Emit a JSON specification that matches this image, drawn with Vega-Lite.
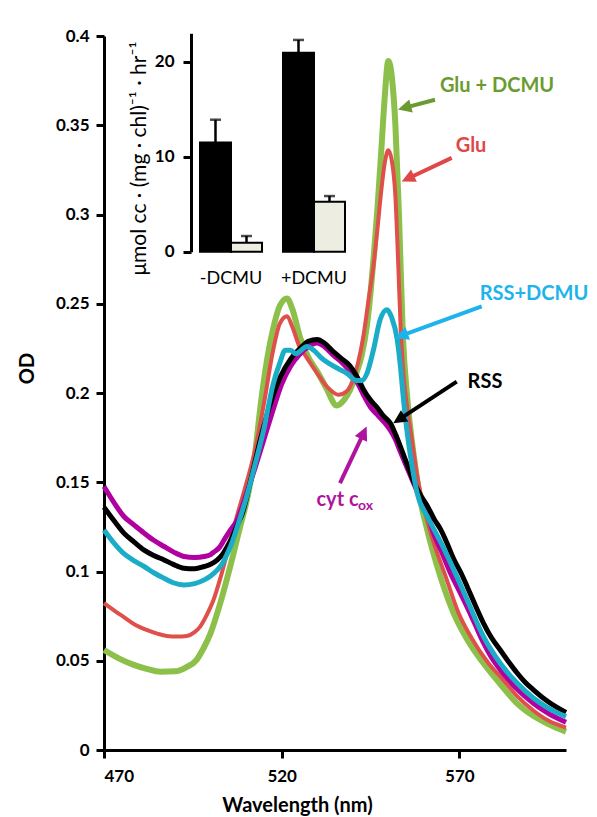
{
  "$schema": "https://vega.github.io/schema/vega-lite/v6.json",
  "width": 462,
  "height": 714,
  "autosize": "none",
  "padding": {"left": 104, "top": 36, "right": 31, "bottom": 67},
  "background": "white",
  "config": {
    "font": "Lato",
    "view": {"stroke": null},
    "axis": {
      "domainColor": "#000", "domainWidth": 3, "tickColor": "#000", "tickWidth": 3, "tickSize": 8,
      "labelColor": "#000", "labelFont": "Lato", "labelFontSize": 17, "labelFontWeight": "bold",
      "titleFont": "Lato", "titleFontSize": 20, "titleFontWeight": "bold", "titleColor": "#000", "grid": false
    }
  },
  "datasets": {
    "curves": [
      {"s":"G","nm":470,"od":0.056},{"s":"G","nm":474,"od":0.0515},{"s":"G","nm":478,"od":0.048},{"s":"G","nm":482,"od":0.0455},{"s":"G","nm":486,"od":0.0439},{"s":"G","nm":490,"od":0.0441},{"s":"G","nm":493,"od":0.0462},{"s":"G","nm":496,"od":0.0504},{"s":"G","nm":498,"od":0.057},{"s":"G","nm":500,"od":0.0655},{"s":"G","nm":502.7,"od":0.0822},{"s":"G","nm":505.5,"od":0.1027},{"s":"G","nm":508.3,"od":0.125},{"s":"G","nm":510.2,"od":0.14},{"s":"G","nm":512.5,"od":0.166},{"s":"G","nm":514,"od":0.192},{"s":"G","nm":516,"od":0.22},{"s":"G","nm":517.6,"od":0.236},{"s":"G","nm":519.5,"od":0.249},{"s":"G","nm":521.5,"od":0.253},{"s":"G","nm":523,"od":0.247},{"s":"G","nm":525.2,"od":0.231},{"s":"G","nm":527.5,"od":0.22},{"s":"G","nm":530,"od":0.212},{"s":"G","nm":532.5,"od":0.203},{"s":"G","nm":535.5,"od":0.193},{"s":"G","nm":537.5,"od":0.196},{"s":"G","nm":539.3,"od":0.202},{"s":"G","nm":541,"od":0.211},{"s":"G","nm":542.5,"od":0.221},{"s":"G","nm":544,"od":0.238},{"s":"G","nm":545,"od":0.256},{"s":"G","nm":546,"od":0.279},{"s":"G","nm":547,"od":0.305},{"s":"G","nm":548,"od":0.335},{"s":"G","nm":549,"od":0.366},{"s":"G","nm":550,"od":0.386},{"s":"G","nm":551,"od":0.377},{"s":"G","nm":552,"od":0.35},{"s":"G","nm":553,"od":0.3},{"s":"G","nm":554.1,"od":0.232},{"s":"G","nm":555.3,"od":0.198},{"s":"G","nm":556.7,"od":0.172},{"s":"G","nm":558,"od":0.153},{"s":"G","nm":559,"od":0.14},{"s":"G","nm":560.5,"od":0.127},{"s":"G","nm":562.3,"od":0.113},{"s":"G","nm":565,"od":0.095},{"s":"G","nm":568.4,"od":0.0766},{"s":"G","nm":572.5,"od":0.061},{"s":"G","nm":576.8,"od":0.0486},{"s":"G","nm":581.5,"od":0.037},{"s":"G","nm":586.3,"od":0.026},{"s":"G","nm":590.9,"od":0.019},{"s":"G","nm":595,"od":0.0145},{"s":"G","nm":600,"od":0.0103},
      {"s":"R","nm":470,"od":0.0823},{"s":"R","nm":473,"od":0.078},{"s":"R","nm":475.4,"od":0.0747},{"s":"R","nm":478.5,"od":0.0705},{"s":"R","nm":482,"od":0.0673},{"s":"R","nm":485,"od":0.0652},{"s":"R","nm":487.7,"od":0.0639},{"s":"R","nm":490.5,"od":0.0636},{"s":"R","nm":493.3,"od":0.0639},{"s":"R","nm":495.5,"od":0.066},{"s":"R","nm":497,"od":0.069},{"s":"R","nm":499,"od":0.076},{"s":"R","nm":500.8,"od":0.084},{"s":"R","nm":502.7,"od":0.096},{"s":"R","nm":504.6,"od":0.11},{"s":"R","nm":507.4,"od":0.131},{"s":"R","nm":510,"od":0.149},{"s":"R","nm":512.5,"od":0.168},{"s":"R","nm":515,"od":0.194},{"s":"R","nm":517.6,"od":0.224},{"s":"R","nm":519.5,"od":0.239},{"s":"R","nm":521.5,"od":0.243},{"s":"R","nm":523,"od":0.237},{"s":"R","nm":525,"od":0.226},{"s":"R","nm":527,"od":0.22},{"s":"R","nm":530,"od":0.211},{"s":"R","nm":533,"od":0.203},{"s":"R","nm":536,"od":0.199},{"s":"R","nm":538.3,"od":0.201},{"s":"R","nm":540,"od":0.207},{"s":"R","nm":541.5,"od":0.217},{"s":"R","nm":543,"od":0.232},{"s":"R","nm":544.5,"od":0.253},{"s":"R","nm":546,"od":0.274},{"s":"R","nm":547,"od":0.293},{"s":"R","nm":548,"od":0.313},{"s":"R","nm":549,"od":0.329},{"s":"R","nm":550,"od":0.336},{"s":"R","nm":551,"od":0.33},{"s":"R","nm":552,"od":0.31},{"s":"R","nm":552.8,"od":0.272},{"s":"R","nm":553.5,"od":0.235},{"s":"R","nm":554.3,"od":0.21},{"s":"R","nm":555.3,"od":0.192},{"s":"R","nm":556.7,"od":0.173},{"s":"R","nm":558,"od":0.155},{"s":"R","nm":560,"od":0.136},{"s":"R","nm":562,"od":0.121},{"s":"R","nm":564,"od":0.109},{"s":"R","nm":566,"od":0.098},{"s":"R","nm":569.8,"od":0.0766},{"s":"R","nm":573.5,"od":0.0625},{"s":"R","nm":578.2,"od":0.0486},{"s":"R","nm":582,"od":0.04},{"s":"R","nm":586.3,"od":0.03},{"s":"R","nm":590.9,"od":0.022},{"s":"R","nm":595,"od":0.0165},{"s":"R","nm":600,"od":0.0125},
      {"s":"C","nm":470,"od":0.1233},{"s":"C","nm":473,"od":0.1155},{"s":"C","nm":475.6,"od":0.11},{"s":"C","nm":478.5,"od":0.106},{"s":"C","nm":481.3,"od":0.1028},{"s":"C","nm":484,"od":0.0993},{"s":"C","nm":486.9,"od":0.0962},{"s":"C","nm":489.5,"od":0.0937},{"s":"C","nm":492.5,"od":0.0925},{"s":"C","nm":495.5,"od":0.0932},{"s":"C","nm":498.2,"od":0.0953},{"s":"C","nm":500,"od":0.0975},{"s":"C","nm":501.9,"od":0.1009},{"s":"C","nm":503.5,"od":0.105},{"s":"C","nm":504.7,"od":0.11},{"s":"C","nm":506,"od":0.116},{"s":"C","nm":507.5,"od":0.125},{"s":"C","nm":510,"od":0.141},{"s":"C","nm":512.5,"od":0.16},{"s":"C","nm":515,"od":0.18},{"s":"C","nm":517.6,"od":0.205},{"s":"C","nm":519.5,"od":0.217},{"s":"C","nm":521,"od":0.224},{"s":"C","nm":522.5,"od":0.224},{"s":"C","nm":524,"od":0.222},{"s":"C","nm":525.5,"od":0.224},{"s":"C","nm":527,"od":0.226},{"s":"C","nm":529,"od":0.224},{"s":"C","nm":531,"od":0.22},{"s":"C","nm":534.6,"od":0.215},{"s":"C","nm":538.4,"od":0.211},{"s":"C","nm":541,"od":0.207},{"s":"C","nm":542.5,"od":0.207},{"s":"C","nm":544,"od":0.211},{"s":"C","nm":545.8,"od":0.224},{"s":"C","nm":547.7,"od":0.241},{"s":"C","nm":549.6,"od":0.2466},{"s":"C","nm":551,"od":0.242},{"s":"C","nm":552.5,"od":0.23},{"s":"C","nm":553.4,"od":0.215},{"s":"C","nm":554.3,"od":0.196},{"s":"C","nm":555.3,"od":0.178},{"s":"C","nm":556.7,"od":0.159},{"s":"C","nm":558.1,"od":0.144},{"s":"C","nm":560.9,"od":0.131},{"s":"C","nm":563,"od":0.123},{"s":"C","nm":565.6,"od":0.113},{"s":"C","nm":567.5,"od":0.105},{"s":"C","nm":570,"od":0.094},{"s":"C","nm":572.2,"od":0.084},{"s":"C","nm":576.8,"od":0.0635},{"s":"C","nm":581.5,"od":0.0486},{"s":"C","nm":586.3,"od":0.0374},{"s":"C","nm":590.9,"od":0.029},{"s":"C","nm":595,"od":0.0235},{"s":"C","nm":600,"od":0.0187},
      {"s":"B","nm":470,"od":0.136},{"s":"B","nm":473,"od":0.128},{"s":"B","nm":475.6,"od":0.1215},{"s":"B","nm":478.5,"od":0.1165},{"s":"B","nm":481.3,"od":0.112},{"s":"B","nm":484,"od":0.109},{"s":"B","nm":486.9,"od":0.1065},{"s":"B","nm":489.5,"od":0.104},{"s":"B","nm":492.5,"od":0.1018},{"s":"B","nm":495.5,"od":0.1015},{"s":"B","nm":498.2,"od":0.1028},{"s":"B","nm":500,"od":0.104},{"s":"B","nm":501.9,"od":0.1065},{"s":"B","nm":503.5,"od":0.11},{"s":"B","nm":504.7,"od":0.114},{"s":"B","nm":506,"od":0.119},{"s":"B","nm":507.5,"od":0.126},{"s":"B","nm":509,"od":0.133},{"s":"B","nm":511.5,"od":0.153},{"s":"B","nm":514,"od":0.174},{"s":"B","nm":516.5,"od":0.192},{"s":"B","nm":519.6,"od":0.209},{"s":"B","nm":522.5,"od":0.219},{"s":"B","nm":525.2,"od":0.225},{"s":"B","nm":527.5,"od":0.229},{"s":"B","nm":530,"od":0.23},{"s":"B","nm":532,"od":0.228},{"s":"B","nm":534.6,"od":0.223},{"s":"B","nm":537,"od":0.219},{"s":"B","nm":539.3,"od":0.215},{"s":"B","nm":541.5,"od":0.208},{"s":"B","nm":543,"od":0.202},{"s":"B","nm":545,"od":0.196},{"s":"B","nm":546.8,"od":0.192},{"s":"B","nm":548.7,"od":0.187},{"s":"B","nm":550.6,"od":0.183},{"s":"B","nm":552,"od":0.177},{"s":"B","nm":553.4,"od":0.17},{"s":"B","nm":555.3,"od":0.16},{"s":"B","nm":557,"od":0.151},{"s":"B","nm":559,"od":0.143},{"s":"B","nm":560.9,"od":0.137},{"s":"B","nm":563,"od":0.129},{"s":"B","nm":564.6,"od":0.124},{"s":"B","nm":566.5,"od":0.116},{"s":"B","nm":568.4,"od":0.107},{"s":"B","nm":570.5,"od":0.099},{"s":"B","nm":572.2,"od":0.0915},{"s":"B","nm":574.5,"od":0.081},{"s":"B","nm":576.8,"od":0.071},{"s":"B","nm":579,"od":0.063},{"s":"B","nm":581.5,"od":0.056},{"s":"B","nm":584,"od":0.049},{"s":"B","nm":586.3,"od":0.043},{"s":"B","nm":588.5,"od":0.038},{"s":"B","nm":590.9,"od":0.0336},{"s":"B","nm":595,"od":0.027},{"s":"B","nm":600,"od":0.021},
      {"s":"M","nm":470,"od":0.1476},{"s":"M","nm":473,"od":0.138},{"s":"M","nm":475.6,"od":0.1308},{"s":"M","nm":478.5,"od":0.126},{"s":"M","nm":481.3,"od":0.1215},{"s":"M","nm":484,"od":0.1175},{"s":"M","nm":486.9,"od":0.114},{"s":"M","nm":489.5,"od":0.111},{"s":"M","nm":492.5,"od":0.1084},{"s":"M","nm":495.5,"od":0.1078},{"s":"M","nm":498.2,"od":0.1084},{"s":"M","nm":500,"od":0.1095},{"s":"M","nm":501,"od":0.111},{"s":"M","nm":502.5,"od":0.1135},{"s":"M","nm":503.8,"od":0.1177},{"s":"M","nm":505.5,"od":0.123},{"s":"M","nm":507.5,"od":0.129},{"s":"M","nm":510,"od":0.143},{"s":"M","nm":512.5,"od":0.158},{"s":"M","nm":515,"od":0.174},{"s":"M","nm":517.5,"od":0.19},{"s":"M","nm":520,"od":0.205},{"s":"M","nm":522.5,"od":0.215},{"s":"M","nm":525.2,"od":0.222},{"s":"M","nm":527.5,"od":0.226},{"s":"M","nm":530,"od":0.228},{"s":"M","nm":532,"od":0.226},{"s":"M","nm":534.6,"od":0.221},{"s":"M","nm":537,"od":0.217},{"s":"M","nm":539.3,"od":0.212},{"s":"M","nm":541.5,"od":0.205},{"s":"M","nm":543,"od":0.199},{"s":"M","nm":545,"od":0.192},{"s":"M","nm":546.8,"od":0.188},{"s":"M","nm":548.7,"od":0.184},{"s":"M","nm":550.6,"od":0.179},{"s":"M","nm":552,"od":0.174},{"s":"M","nm":553.4,"od":0.167},{"s":"M","nm":555.3,"od":0.158},{"s":"M","nm":557,"od":0.15},{"s":"M","nm":559,"od":0.141},{"s":"M","nm":560.9,"od":0.133},{"s":"M","nm":562.8,"od":0.121},{"s":"M","nm":565,"od":0.111},{"s":"M","nm":567.5,"od":0.099},{"s":"M","nm":570,"od":0.089},{"s":"M","nm":572.2,"od":0.08},{"s":"M","nm":574.5,"od":0.07},{"s":"M","nm":576.8,"od":0.06},{"s":"M","nm":579,"od":0.052},{"s":"M","nm":581.5,"od":0.045},{"s":"M","nm":584,"od":0.039},{"s":"M","nm":586.3,"od":0.034},{"s":"M","nm":588.5,"od":0.03},{"s":"M","nm":590.9,"od":0.026},{"s":"M","nm":595,"od":0.0205},{"s":"M","nm":600,"od":0.0155}
    ],
    "arrows": [
      {"s":"G","nm":563.14,"od":0.3643,"nm2":554.76,"od2":0.3599},
      {"s":"R","nm":567.84,"od":0.3317,"nm2":555.68,"od2":0.3203},
      {"s":"C","nm":576.28,"od":0.2485,"nm2":553.87,"od2":0.2323},
      {"s":"B","nm":569.25,"od":0.2064,"nm2":553.17,"od2":0.1854},
      {"s":"M","nm":536.41,"od":0.1495,"nm2":543.02,"od2":0.1774}
    ],
    "heads": [
      {"s":"G","nm":554.76,"od":0.3599},
      {"s":"R","nm":555.68,"od":0.3203},
      {"s":"C","nm":553.87,"od":0.2323},
      {"s":"B","nm":553.17,"od":0.1854},
      {"s":"M","nm":543.02,"od":0.1774}
    ],
    "labels": [
      {"s":"G","label":"Glu + DCMU","nm":580.59,"od":0.3722},
      {"s":"R","label":"Glu","nm":573.27,"od":0.3386},
      {"s":"C","label":"RSS+DCMU","nm":591.0,"od":0.2556},
      {"s":"B","label":"RSS","nm":577.21,"od":0.2063},
      {"s":"M","label":"cyt c","nm":535.71,"od":0.1401}
    ],
    "subs": [
      {"s":"M","label":"ox","nm":543.58,"od":0.1366}
    ],
    "inset": [
      {"cond":"-DCMU","kind":"a","v":11.5,"err":13.9},
      {"cond":"-DCMU","kind":"b","v":0.95,"err":1.65},
      {"cond":"+DCMU","kind":"a","v":20.95,"err":22.3},
      {"cond":"+DCMU","kind":"b","v":5.26,"err":5.86}
    ]
  },
  "layer": [
    {
      "encoding": {
        "x": {"field":"nm","type":"quantitative","scale":{"domain":[470,600]},
              "axis":{"values":[470,520,570],"title":"Wavelength (nm)","labelPadding":10,"titlePadding":11,"titleX":193}},
        "y": {"field":"od","type":"quantitative","scale":{"domain":[0,0.4]},
              "axis":{"values":[0,0.05,0.1,0.15,0.2,0.25,0.3,0.35,0.4],"format":".2~f","title":"OD","labelPadding":7,"titlePadding":18,"titleY":332}}
      },
      "layer": [
        {"data":{"name":"curves"},"transform":[{"filter":"datum.s==='G'"}],
         "mark":{"type":"line","color":"#8CC04B","strokeWidth":6,"interpolate":"monotone"}},
        {"data":{"name":"curves"},"transform":[{"filter":"datum.s==='R'"}],
         "mark":{"type":"line","color":"#E0504A","strokeWidth":4,"interpolate":"monotone"}},
        {"data":{"name":"curves"},"transform":[{"filter":"datum.s==='M'"}],
         "mark":{"type":"line","color":"#B000A0","strokeWidth":5,"interpolate":"monotone"}},
        {"data":{"name":"curves"},"transform":[{"filter":"datum.s==='B'"}],
         "mark":{"type":"line","color":"#000000","strokeWidth":5,"interpolate":"monotone"}},
        {"data":{"name":"curves"},"transform":[{"filter":"datum.s==='C'"}],
         "mark":{"type":"line","color":"#1BACC8","strokeWidth":5,"interpolate":"monotone"}},
        {"data":{"name":"arrows"},
         "mark":{"type":"rule","strokeWidth":4},
         "encoding":{"x2":{"field":"nm2"},"y2":{"field":"od2"},
           "color":{"field":"s","type":"nominal","legend":null,
             "scale":{"domain":["G","R","C","B","M"],"range":["#6B9B30","#E04848","#1CB4EA","#000000","#B0149E"]}}}},
        {"data":{"name":"heads"},"transform":[{"filter":"datum.s==='G'"}],
         "mark":{"type":"point","shape":"M0,-1L0.9,0.8L-0.9,0.8Z","angle":255,"size":225,"filled":true,"opacity":1,"color":"#6B9B30","strokeWidth":0}},
        {"data":{"name":"heads"},"transform":[{"filter":"datum.s==='R'"}],
         "mark":{"type":"point","shape":"M0,-1L0.9,0.8L-0.9,0.8Z","angle":245,"size":225,"filled":true,"opacity":1,"color":"#E04848","strokeWidth":0}},
        {"data":{"name":"heads"},"transform":[{"filter":"datum.s==='C'"}],
         "mark":{"type":"point","shape":"M0,-1L0.9,0.8L-0.9,0.8Z","angle":250,"size":225,"filled":true,"opacity":1,"color":"#1CB4EA","strokeWidth":0}},
        {"data":{"name":"heads"},"transform":[{"filter":"datum.s==='B'"}],
         "mark":{"type":"point","shape":"M0,-1L0.9,0.8L-0.9,0.8Z","angle":237,"size":225,"filled":true,"opacity":1,"color":"#000000","strokeWidth":0}},
        {"data":{"name":"heads"},"transform":[{"filter":"datum.s==='M'"}],
         "mark":{"type":"point","shape":"M0,-1L0.9,0.8L-0.9,0.8Z","angle":25,"size":225,"filled":true,"opacity":1,"color":"#B0149E","strokeWidth":0}},
        {"data":{"name":"labels"},
         "mark":{"type":"text","font":"Lato","fontSize":20,"fontWeight":"bold","align":"center","baseline":"middle"},
         "encoding":{"text":{"field":"label"},
           "color":{"field":"s","type":"nominal","legend":null}}},
        {"data":{"name":"subs"},
         "mark":{"type":"text","font":"Lato","fontSize":14,"fontWeight":"bold","align":"center","baseline":"middle","color":"#B0149E"},
         "encoding":{"text":{"field":"label"}}}
      ]
    },
    {
      "data":{"name":"inset"},
      "encoding": {
        "x": {"field":"cond","type":"nominal","sort":["-DCMU","+DCMU"],
              "scale":{"domain":["-DCMU","+DCMU"],"range":[96,241],"paddingInner":0.253,"paddingOuter":0},
              "axis":{"orient":"bottom","offset":-498,"domain":false,"ticks":false,"title":null,"labelPadding":17,"labelFontWeight":"normal","labelFontSize":18,"labelAngle":0,"labelDx":-3}},
        "xOffset": {"field":"kind","type":"nominal","scale":{"domain":["a","b"],"paddingInner":0,"paddingOuter":0}},
        "y": {"field":"v","type":"quantitative","scale":{"domain":[0,23],"range":[215.7,-2.7]},
              "axis":{"orient":"left","offset":-87,"values":[0,10,20],"title":"μmol cc · (mg · chl)⁻¹ · hr⁻¹","titleFontWeight":"normal","titleFontSize":21,"titlePadding":5,"titleY":122,"labelPadding":9}}
      },
      "layer": [
        {"mark":{"type":"rule","color":"#000","strokeWidth":2.5},
         "encoding":{"y2":{"field":"err"}}},
        {"mark":{"type":"tick","color":"#000","size":11,"thickness":2.5,"orient":"horizontal"},
         "encoding":{"y":{"field":"err","type":"quantitative"}}},
        {"mark":{"type":"bar","stroke":"#000","strokeWidth":2},
         "encoding":{"fill":{"field":"kind","type":"nominal","legend":null,
           "scale":{"domain":["a","b"],"range":["#000000","#EDEDE1"]}}}}
      ]
    }
  ],
  "resolve": {"scale":{"x":"independent","y":"independent"},"axis":{"x":"independent","y":"independent"}}
}
